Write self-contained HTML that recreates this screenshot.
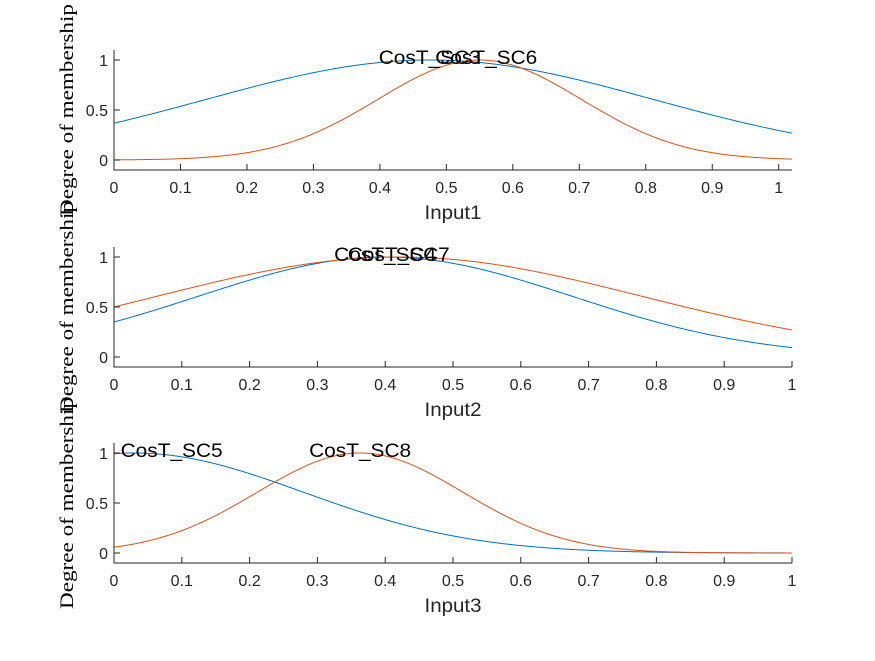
<!DOCTYPE html>
<html><head><meta charset="utf-8"><style>
body{margin:0;background:#fff}
svg text{font-family:"Liberation Sans",Arial,sans-serif}
</style></head><body>
<svg id="fig" width="875" height="656" xmlns="http://www.w3.org/2000/svg"></svg>
<script>
// Gaussian membership function parameters per subplot (centers, sigmas)
const inputNames = ["Input1","Input2","Input3"];
const xMaxes = [1.02, 1, 1];
const mfNames1 = ["CosT_SC3","CosT_SC6"];
const centers1 = [0.475, 0.55];
const sigmas1 = [0.336, 0.153];
const labelX1 = [0.475, 0.56];
const mfNames2 = ["CosT_SC4","CosT_SC7"];
const centers2 = [0.40, 0.421];
const sigmas2 = [0.276, 0.358];
const labelX2 = [0.40, 0.42];
const mfNames3 = ["CosT_SC5","CosT_SC8"];
const centers3 = [0.03, 0.363];
const sigmas3 = [0.25, 0.152];
const labelX3 = [0.085, 0.363];
const xTicks = [0,0.1,0.2,0.3,0.4,0.5,0.6,0.7,0.8,0.9,1];
const xTickLabels = ["0","0.1","0.2","0.3","0.4","0.5","0.6","0.7","0.8","0.9","1"];
const yTicks = [0,0.5,1];
const yTickLabels = ["0","0.5","1"];

const NS="http://www.w3.org/2000/svg";
const svg=document.getElementById('fig');
const colors=["#0072BD","#D95319"];
const tops=[50,247,443];
const L=114,R=792,H=120;
function mk(tag,attrs,parent){const e=document.createElementNS(NS,tag);for(const k in attrs)e.setAttribute(k,attrs[k]);(parent||svg).appendChild(e);return e;}
const sets=[[mfNames1,centers1,sigmas1,labelX1],[mfNames2,centers2,sigmas2,labelX2],[mfNames3,centers3,sigmas3,labelX3]];
sets.forEach((s,i)=>{
  const top=tops[i],bot=top+H,xmax=xMaxes[i];
  const xs=v=>L+v/xmax*(R-L);
  const ys=v=>bot-(v+0.1)/1.2*H;
  const g=mk('g',{});
  
  
  s[0].forEach((nm,j)=>{
    let d="";
    for(let k=0;k<=300;k++){const x=xmax*k/300;const y=Math.exp(-Math.pow(x-s[1][j],2)/(2*s[2][j]*s[2][j]));d+=(k?"L":"M")+xs(x).toFixed(2)+","+ys(y).toFixed(2);}
    const p=mk('path',{d:d,fill:"none",stroke:colors[j],"stroke-width":1},g);
    
    
  });
  const ax=mk('path',{d:`M${L},${top}V${bot}H${R}`,fill:"none",stroke:"#262626","stroke-width":1},g);
  
  
  xTicks.forEach((t,k)=>{
    if(t>xmax)return;
    const x=xs(t);
    mk('line',{x1:x,x2:x,y1:bot,y2:bot-6,stroke:"#262626"},g);
    const tx=mk('text',{x:x,y:bot+23,"text-anchor":"middle","font-size":16,fill:"#262626"},g);
    tx.textContent=xTickLabels[k];
    
    
  });
  yTicks.forEach((t,k)=>{
    const y=ys(t);
    mk('line',{x1:L,x2:L+6,y1:y,y2:y,stroke:"#262626"},g);
    const tx=mk('text',{x:L-6,y:y+6,"text-anchor":"end","font-size":16,fill:"#262626"},g);
    tx.textContent=yTickLabels[k];
    
    
  });
  const xl=mk('text',{x:(L+R)/2,y:bot+49,"text-anchor":"middle","font-size":19,fill:"#262626",textLength:57,lengthAdjust:"spacingAndGlyphs"},g);
  xl.textContent=inputNames[i];
  
  
  const cy=(top+bot)/2;
  const yl=mk('text',{x:0,y:0,"text-anchor":"middle","font-size":19,fill:"#000",transform:`translate(73,${cy}) rotate(-90)`,textLength:212,lengthAdjust:"spacingAndGlyphs",style:'font-family:"Liberation Serif",serif'},g);
  yl.textContent="Degree of membership";
  
  
  s[0].forEach((nm,j)=>{
    const t=mk('text',{x:xs(s[3][j]),y:ys(1)+4,"text-anchor":"middle","font-size":19,fill:"#000",textLength:102,lengthAdjust:"spacingAndGlyphs"},g);
    t.textContent=nm;
    
    
  });
});
</script>
</body></html>
